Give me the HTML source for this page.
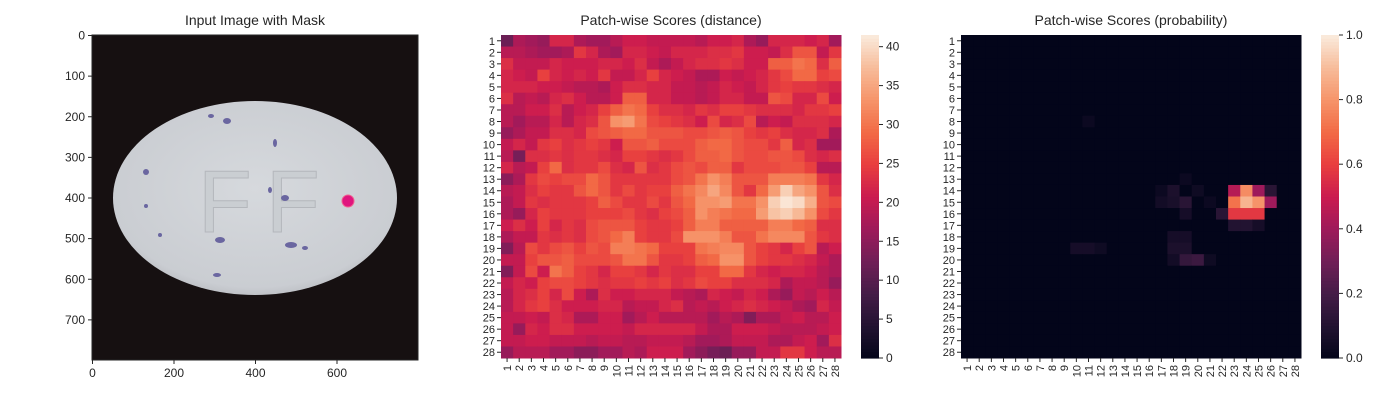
<!DOCTYPE html>
<html><head><meta charset="utf-8"><style>
body{margin:0;background:#fff;width:1400px;height:400px;overflow:hidden;font-family:"Liberation Sans",sans-serif}
svg{display:block}
text{font-family:"Liberation Sans",sans-serif;fill:#262626}
</style></head><body>
<svg id="chart" width="1400" height="400">
<defs>
<radialGradient id="pill" cx="0.5" cy="0.45" r="0.6"><stop offset="0" stop-color="#d6d9dd"/><stop offset="0.85" stop-color="#cacdd2"/><stop offset="1" stop-color="#b3b5ba"/></radialGradient>
</defs>
<g id="p1">
<text x="255" y="25" text-anchor="middle" font-size="14">Input Image with Mask</text>
<rect x="92" y="35" width="326" height="325" fill="#161011"/>
<ellipse cx="255" cy="198" rx="142" ry="97" fill="url(#pill)"/>
<text x="198" y="232" font-size="88" style="fill:#caced2" stroke="#b4b7bc" stroke-width="1">F</text>
<text x="266" y="232" font-size="88" style="fill:#caced2" stroke="#b4b7bc" stroke-width="1">F</text>
<g fill="#6a66a0">
<ellipse cx="220" cy="240" rx="5" ry="3"/><ellipse cx="291" cy="245" rx="6" ry="3"/><ellipse cx="217" cy="275" rx="4" ry="2"/><ellipse cx="305" cy="248" rx="3" ry="2"/><ellipse cx="227" cy="121" rx="4" ry="3"/><ellipse cx="211" cy="116" rx="3" ry="2"/><ellipse cx="275" cy="143" rx="2" ry="4"/><ellipse cx="285" cy="198" rx="4" ry="3"/><ellipse cx="270" cy="190" rx="2" ry="3"/><ellipse cx="146" cy="172" rx="3" ry="3"/><ellipse cx="146" cy="206" rx="2" ry="2"/><ellipse cx="160" cy="235" rx="2" ry="2"/></g>
<circle cx="348" cy="201" r="6" fill="#e0157e" stroke="#f06090" stroke-width="1"/>
<rect x="92" y="35" width="326" height="325" fill="none" stroke="#262626" stroke-width="1"/>
<g id="imgticks"></g>
</g>
<g id="p2"></g>
<g id="p3"></g>
</svg>
<script>
const imgXTicks=[0,200,400,600];
const imgYTicks=[0,100,200,300,400,500,600,700];
const distValues=[
[12,18,17,16,22,22,18,17,17,19,21,21,20,20,20,20,19,21,21,22,18,16,22,22,22,21,22,17],
[19,19,18,17,17,18,24,22,18,17,22,22,21,20,22,22,22,23,23,24,21,21,20,23,27,27,20,24],
[23,20,20,20,22,21,21,21,22,22,21,23,20,18,20,22,23,23,24,23,21,21,28,28,30,29,23,28],
[22,21,20,25,22,21,22,21,24,20,20,22,25,22,21,20,18,18,21,20,21,22,24,26,29,29,25,26],
[22,22,22,21,21,20,19,19,18,21,23,23,22,22,20,20,19,20,22,21,20,22,24,25,24,24,23,22],
[23,19,20,19,22,23,21,19,19,21,28,28,22,22,20,20,19,20,22,22,20,20,27,26,22,22,26,21],
[19,19,21,21,23,19,21,22,25,28,30,29,25,23,23,22,24,23,25,25,24,23,23,23,22,24,24,25],
[19,17,19,19,22,19,22,23,27,33,34,30,26,25,24,23,21,26,22,23,26,19,21,20,23,23,23,22],
[16,18,20,20,23,23,22,26,27,28,29,29,27,27,27,26,26,27,28,27,25,24,25,23,22,22,23,18],
[20,22,20,24,25,23,24,25,24,21,27,27,28,26,26,26,28,29,29,27,26,26,24,28,22,23,17,17],
[19,13,23,23,24,23,24,24,23,22,25,25,24,23,24,26,28,28,29,27,26,26,27,27,26,23,22,23],
[22,19,20,25,29,23,24,24,26,23,22,27,23,24,26,27,26,28,28,24,26,26,26,27,27,25,19,19],
[15,18,24,26,25,26,26,29,27,24,24,24,24,24,26,27,30,33,31,27,27,27,31,31,31,30,24,22],
[19,20,23,25,24,24,27,29,27,24,26,24,25,25,28,30,32,35,32,27,24,29,34,39,35,33,27,23],
[18,20,24,23,24,24,24,25,28,26,24,24,26,24,27,29,33,33,34,30,30,33,39,41,40,36,27,26],
[18,16,22,25,24,24,24,25,25,25,26,24,23,25,26,28,33,31,30,29,29,34,38,39,37,33,26,24],
[21,23,21,25,22,24,23,26,27,27,27,25,24,24,25,28,31,31,28,28,28,28,31,31,29,28,23,23],
[18,20,20,24,23,24,23,26,27,29,31,25,24,24,26,33,33,33,31,27,27,30,32,32,32,27,24,23],
[14,19,26,24,26,27,25,27,26,31,31,30,29,25,25,25,30,31,32,32,27,25,24,22,25,27,19,21],
[20,20,25,27,27,28,26,26,26,27,30,30,27,24,24,25,28,29,33,33,27,25,24,24,23,22,20,18],
[14,20,26,21,30,28,25,24,22,25,25,24,22,24,23,23,25,25,29,29,24,22,21,22,22,21,19,18],
[20,22,21,25,26,26,25,24,23,24,24,25,24,25,23,24,26,25,25,23,23,23,22,18,20,20,19,16],
[19,22,23,25,22,26,21,18,23,21,21,22,22,22,20,19,18,22,21,20,22,21,18,16,20,19,21,19],
[19,22,24,25,23,21,21,21,22,22,19,20,20,22,23,19,20,19,21,22,23,22,21,20,18,17,22,20],
[20,20,21,20,23,22,18,18,21,21,17,19,21,19,19,19,19,17,19,18,14,18,18,20,21,19,19,21],
[20,16,22,21,23,23,21,21,21,21,20,22,22,22,22,22,20,18,18,21,21,21,20,19,19,19,20,21],
[20,20,21,21,20,20,20,19,20,20,19,19,20,20,20,19,17,17,18,20,20,20,18,18,20,21,17,23],
[16,19,19,19,17,17,15,15,17,17,19,18,21,21,21,17,15,13,12,16,16,20,20,24,24,21,19,19]];
const probRows=[8,13,14,14,14,14,14,14,14,15,15,15,15,15,15,15,15,16,16,16,16,16,17,17,17,18,18,19,19,19,19,19,20,20,20,20];
const probCols=[11,19,17,18,20,23,24,25,26,17,18,19,21,23,24,25,26,19,22,23,24,25,23,24,25,18,19,10,11,12,18,19,18,19,20,21];
const probVals=[0.03,0.03,0.03,0.08,0.04,0.45,0.78,0.4,0.12,0.05,0.07,0.12,0.03,0.72,0.88,0.8,0.4,0.06,0.12,0.58,0.58,0.58,0.1,0.1,0.06,0.06,0.06,0.06,0.06,0.04,0.08,0.08,0.05,0.15,0.17,0.04];
const distTicks=[0,5,10,15,20,25,30,35,40];
const probTicks=[0,0.2,0.4,0.6,0.8,1.0];
const N=28;
const NS='http://www.w3.org/2000/svg';
const rocket=[[0,'#03051A'],[0.1,'#221331'],[0.2,'#451C47'],[0.3,'#701F57'],[0.4,'#9E1A5B'],[0.5,'#CB1B4F'],[0.6,'#E83F3F'],[0.7,'#F26A45'],[0.8,'#F6946A'],[0.9,'#F7BC9A'],[1,'#FAEBDD']];
function hex(c){return [1,3,5].map(i=>parseInt(c.substr(i,2),16));}
function cmap(t){t=Math.max(0,Math.min(1,t));for(let i=1;i<rocket.length;i++){if(t<=rocket[i][0]){const a=rocket[i-1],b=rocket[i];const f=(t-a[0])/(b[0]-a[0]);const A=hex(a[1]),B=hex(b[1]);return 'rgb('+A.map((v,k)=>Math.round(v+(B[k]-v)*f)).join(',')+')';}}return rocket[rocket.length-1][1];}
function mk(tag,attrs,parent){const e=document.createElementNS(NS,tag);for(const k in attrs)e.setAttribute(k,attrs[k]);parent.appendChild(e);return e;}
const it=document.getElementById('imgticks');
const ix=v=>92.5+v*326/800, iy=v=>35.5+v*325/800;
imgXTicks.forEach(v=>{const l=mk('line',{x1:ix(v),x2:ix(v),y1:360,y2:364,stroke:'#262626'},it);


const t=mk('text',{x:ix(v),y:377,'text-anchor':'middle','font-size':'12'},it);t.textContent=v;

});
imgYTicks.forEach(v=>{const l=mk('line',{x1:88,x2:92,y1:iy(v),y2:iy(v),stroke:'#262626'},it);


const t=mk('text',{x:85,y:iy(v)+4,'text-anchor':'end','font-size':'12'},it);t.textContent=v;

});
function heatmap(g,x0,title,getVal,vmax,ticks,cbx,fmt){
  const W=340,H=323,y0=35,cw=W/N,ch=H/N;
  const tt=mk('text',{x:x0+W/2,y:25,'text-anchor':'middle','font-size':'14'},g);tt.textContent=title;
  
  
  const xs=c=>x0+c*cw, ys=r=>y0+r*ch;
  for(let r=0;r<N;r++)for(let c=0;c<N;c++){
    const rc=mk('rect',{x:xs(c),y:ys(r),width:cw+0.5,height:ch+0.5,fill:cmap(getVal(r,c)/vmax)},g);
    
    
  }
  for(let i=0;i<N;i++){
    const yl=mk('line',{x1:x0-4,x2:x0,y1:ys(i+0.5),y2:ys(i+0.5),stroke:'#262626'},g);
    
    
    const yt=mk('text',{x:x0-6,y:ys(i+0.5)+4,'text-anchor':'end','font-size':'11'},g);yt.textContent=i+1;
    
    
    const xl=mk('line',{x1:xs(i+0.5),x2:xs(i+0.5),y1:y0+H,y2:y0+H+4,stroke:'#262626'},g);
    
    
    const px=xs(i+0.5)+4,py=y0+H+7;
    const xt=mk('text',{x:px,y:py,'text-anchor':'end','font-size':'11',transform:'rotate(-90 '+px+' '+py+')'},g);xt.textContent=i+1;
    
    
  }
  const cbW=18;const cs=v=>y0+H-v/vmax*H;
  for(let k=0;k<100;k++){const rc=mk('rect',{x:cbx,y:y0+H-(k+1)*H/100,width:cbW,height:H/100+0.6,fill:cmap((k+0.5)/100)},g);
    
    }
  ticks.forEach(v=>{const l=mk('line',{x1:cbx+cbW,x2:cbx+cbW+4,y1:cs(v),y2:cs(v),stroke:'#262626'},g);
    
    
    const t=mk('text',{x:cbx+cbW+7,y:cs(v)+4,'font-size':'12'},g);t.textContent=fmt(v);
    
    });
}
heatmap(document.getElementById('p2'),501,'Patch-wise Scores (distance)',(r,c)=>distValues[r][c],41.5,distTicks,861,v=>v);
const probGrid=[];for(let r=0;r<N;r++){probGrid.push(new Array(N).fill(0));}
probRows.forEach((r,i)=>{probGrid[r-1][probCols[i]-1]=probVals[i];});
heatmap(document.getElementById('p3'),961,'Patch-wise Scores (probability)',(r,c)=>probGrid[r][c],1,probTicks,1321,v=>v.toFixed(1));
</script>
</body></html>
